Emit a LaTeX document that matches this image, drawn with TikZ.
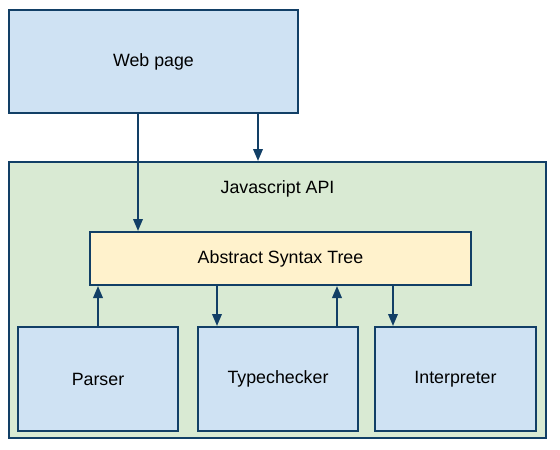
\documentclass[tikz,border=0pt]{standalone}
\usepackage{fontspec}
\setmainfont{Liberation Sans}
\usetikzlibrary{arrows.meta}
\definecolor{boxblue}{HTML}{CFE2F3}
\definecolor{boxgreen}{HTML}{D9EAD3}
\definecolor{boxyellow}{HTML}{FFF2CC}
\definecolor{edgeblue}{HTML}{123F66}

\begin{document}
\begin{tikzpicture}[x=1pt,y=-1pt,
    box/.style={draw=edgeblue,line width=2pt,rectangle,inner sep=0pt,
      font=\fontsize{17.8}{21}\selectfont},
    arr/.style={draw=edgeblue,line width=2pt,
      -{Triangle[length=12pt,width=9.5pt]}}]
  \useasboundingbox (0,0) rectangle (560,450);
  % outer parts
  \node[box,fill=boxblue,minimum width=289pt,minimum height=103pt] (web) at (153.5,61.5) {Web page};
  \node[box,fill=boxgreen,minimum width=537pt,minimum height=276pt] (api) at (277.5,300) {};
  \node[font=\fontsize{17.8}{21}\selectfont] (apititle) at (277.5,189) {Javascript API};
  % inside the API
  \node[box,fill=boxyellow,minimum width=381pt,minimum height=53pt] (ast) at (280.5,258.5) {Abstract Syntax Tree};
  \node[box,fill=boxblue,minimum width=160pt,minimum height=104pt] (parser) at (98,379) {Parser};
  \node[box,fill=boxblue,minimum width=160pt,minimum height=104pt] (check) at (278,379) {Typechecker};
  \node[box,fill=boxblue,minimum width=161pt,minimum height=104pt] (interp) at (455.5,379) {Interpreter};
  % connectors
  \draw[arr] (web.south -| 138,0) -- (ast.north -| 138,0);
  \draw[arr] (web.south -| 258,0) -- (api.north -| 258,0);
  \draw[arr] (parser.north) -- (ast.south -| parser.north);
  \draw[arr] (ast.south -| 217,0) -- (check.north -| 217,0);
  \draw[arr] (check.north -| 337,0) -- (ast.south -| 337,0);
  \draw[arr] (ast.south -| 393,0) -- (interp.north -| 393,0);
\end{tikzpicture}
\end{document}
